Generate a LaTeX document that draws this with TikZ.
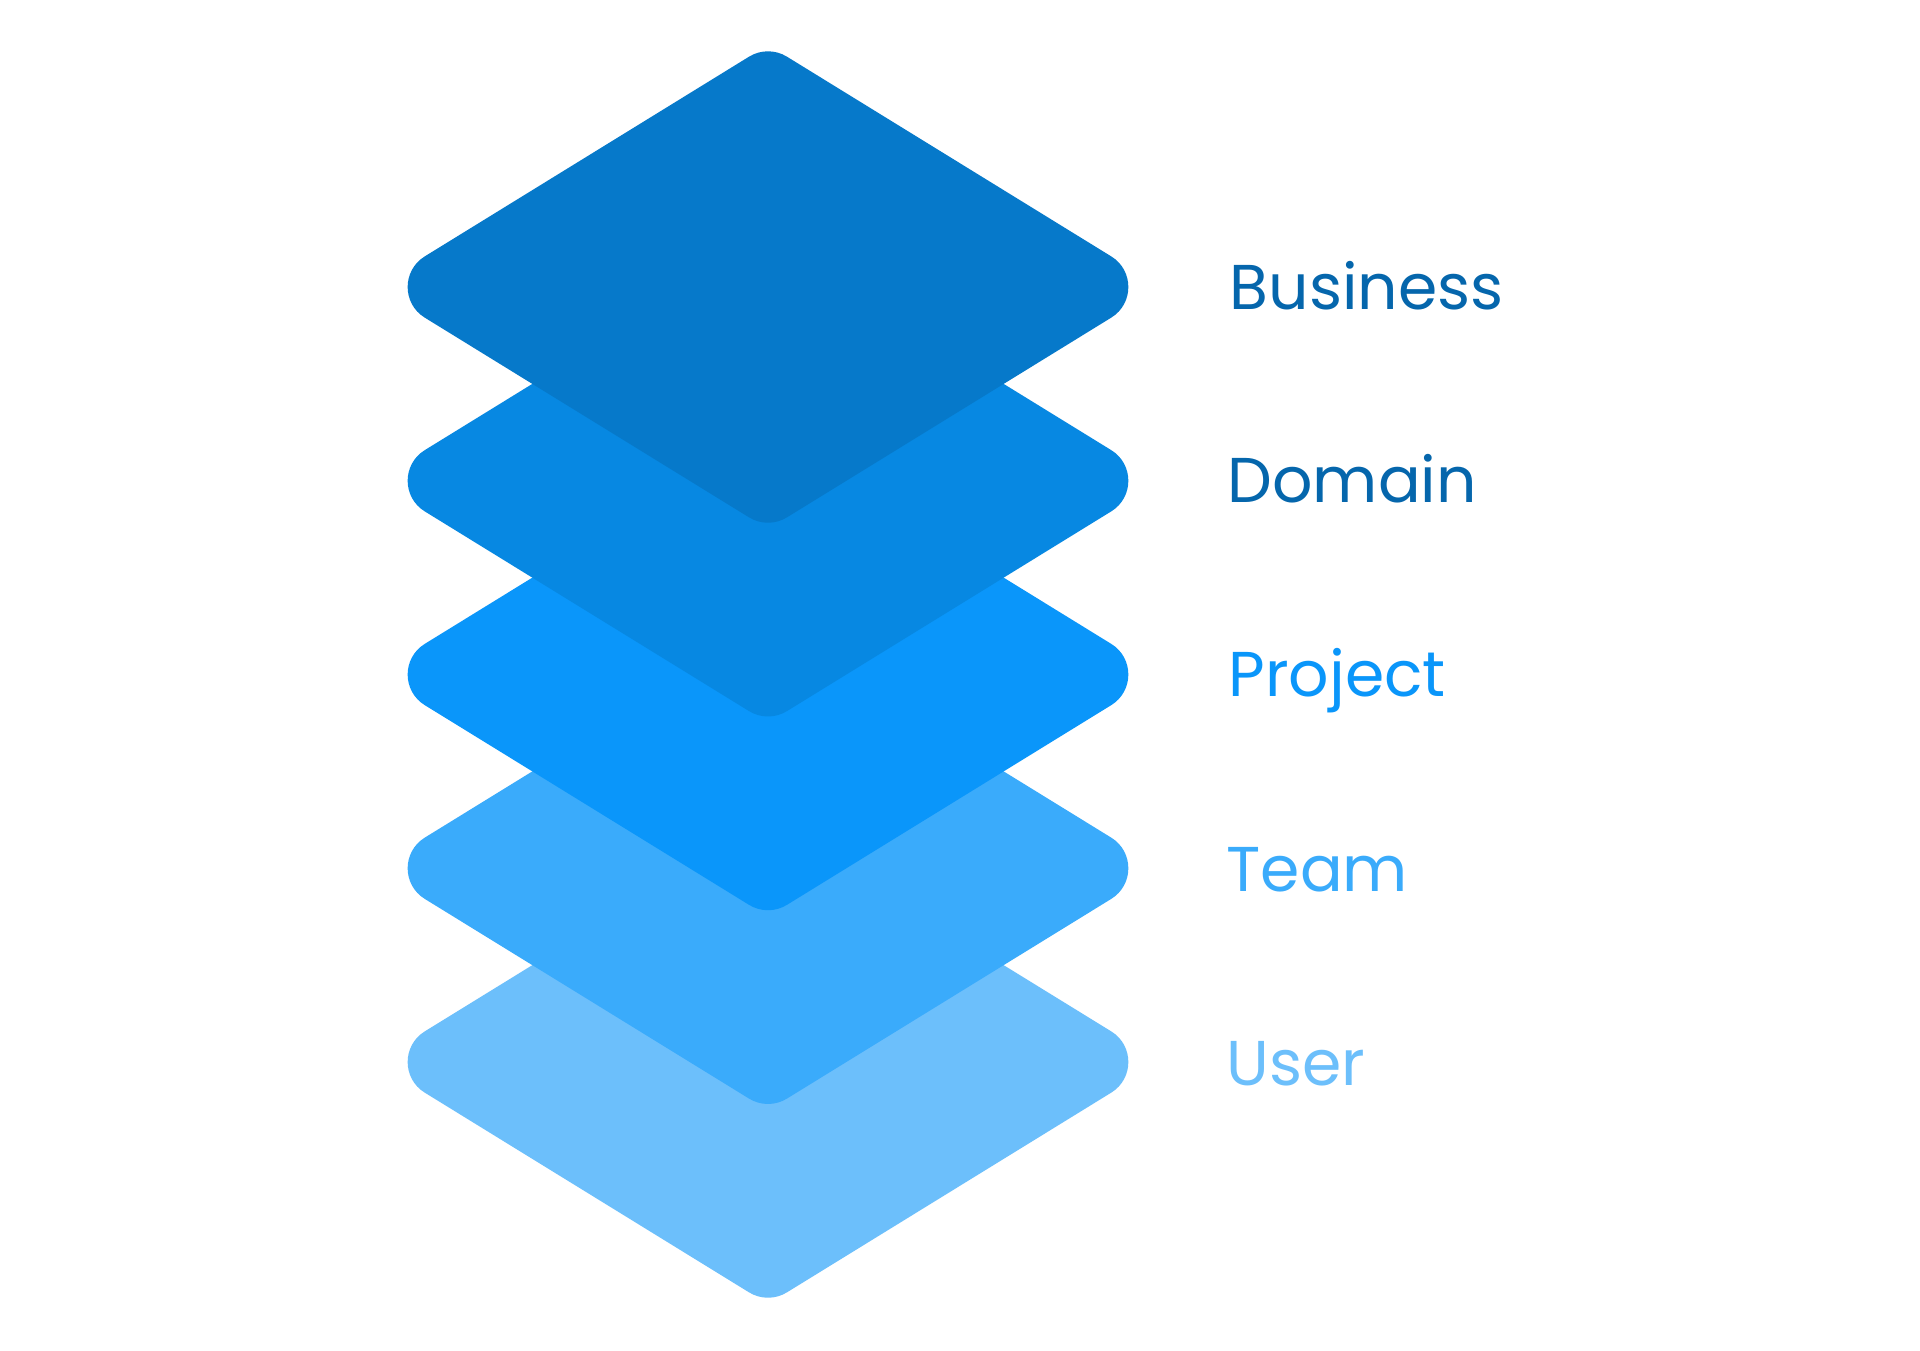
\documentclass[tikz,border=0pt]{standalone}
\usepackage{fontspec}
\setmainfont{Poppins}
\definecolor{cBusiness}{HTML}{0679CA}
\definecolor{cDomain}{HTML}{0788E2}
\definecolor{cProject}{HTML}{0A96FA}
\definecolor{cTeam}{HTML}{3AABFB}
\definecolor{cUser}{HTML}{6CBFFB}
\definecolor{cDark}{HTML}{0566AC}
\tikzset{
  label text/.style={anchor=base west, inner sep=0pt, font=\fontsize{18}{18}\selectfont},
}
\newcommand{\layerpath}{%
  (-343.2,-30.65) -- (-18.88,-230.37)
  .. controls (-7.33,-237.49) and (7.33,-237.49) .. (18.88,-230.37)
  -- (343.2,-30.65)
  .. controls (366.06,-16.58) and (366.06,16.58) .. (343.2,30.65)
  -- (18.88,230.37)
  .. controls (7.33,237.49) and (-7.33,237.49) .. (-18.88,230.37)
  -- (-343.2,30.65)
  .. controls (-366.06,16.58) and (-366.06,-16.58) .. (-343.2,-30.65)
  -- cycle}
\begin{document}
\begin{tikzpicture}[x=0.01cm,y=-0.01cm]
\useasboundingbox[fill=white] (0,0) rectangle (1920,1350);
\foreach \cy/\col in {1062/cUser, 868.25/cTeam, 674.5/cProject, 480.75/cDomain, 287/cBusiness}{
  \begin{scope}[shift={(768,\cy)}]
    \fill[\col] \layerpath;
  \end{scope}
}
\node[label text, text=cDark] (business) at (1229,309) {Business};
\node[label text, text=cDark] (domain) at (1227,502) {Domain};
\node[label text, text=cProject] (project) at (1228,696) {Project};
\node[label text, text=cTeam] (team) at (1226,891) {Team};
\node[label text, text=cUser] (user) at (1226,1085) {User};
\end{tikzpicture}
\end{document}
